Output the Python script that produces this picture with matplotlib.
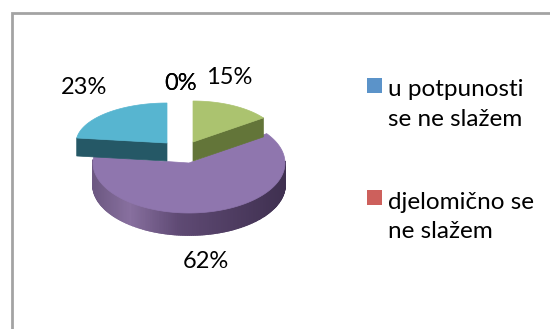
import matplotlib
matplotlib.use('Agg')
import matplotlib.pyplot as plt
from matplotlib.patches import Polygon, Rectangle
import numpy as np

#data
categories = ['u potpunosti\nse ne slažem', 'djelomično se\nne slažem', 'c3', 'c4', 'c5']
values = [0, 0, 15, 62, 23]
top_colors = ['#5b93c9', '#cd605c', '#abc36f', '#8f76ae', '#57b5d0']
side_colors = ['#2f4f70', '#7a3432', '#637539', '#4a3a5c', '#255866']

#centre of each slice in pixels (exploded), radii and depth
apex = {2: (193, 142), 3: (189, 163), 4: (167, 143)}
radii = {2: (87, 41), 3: (96, 50), 4: (91, 40)}
depth = {2: 19, 3: 22, 4: 18}
#where the percent labels sit
label_pos = [(181, 83), (181, 83), (229, 77), (206, 261), (84, 88)]

plt.rcParams['font.family'] = ['Lato', 'DejaVu Sans']
fig = plt.figure(figsize=(5.5, 3.29), dpi=100)
ax = fig.add_axes([0, 0, 1, 1])
ax.set_xlim(0, 550)
ax.set_ylim(329, 0)
ax.axis('off')

#chart frame, only left and top are in the crop
ax.plot([11.5, 11.5, 550], [329, 12.5, 12.5], color='#a3a3a3', lw=2, solid_joinstyle='miter')

#angles clockwise from 12 o'clock
total = sum(values)
ends = np.cumsum(values) / total * 2 * np.pi
starts = ends - np.array(values) / total * 2 * np.pi


def rim(i, a):
    return apex[i][0] + radii[i][0] * np.sin(a), apex[i][1] - radii[i][1] * np.cos(a)


def mix(c1, c2, t):
    c1 = np.array(matplotlib.colors.to_rgb(c1))
    c2 = np.array(matplotlib.colors.to_rgb(c2))
    return tuple(c1 + (c2 - c1) * t)


#back to front: purple, green, teal
for i in [3, 2, 4]:
    a = np.linspace(starts[i], ends[i], 200)
    x, y = rim(i, a)
    ax0, ay0 = apex[i]
    d = depth[i]
    if i == 3:
        #round side with the gradient, only the front half shows
        for k in range(len(a) - 1):
            if np.cos(a[k]) > 0.05:
                continue
            t = (x[k] - 91) / 194
            if t < 0.2:
                col = mix('#6b5780', '#88709f', t / 0.2)
            elif t < 0.45:
                col = mix('#88709f', '#5f4a74', (t - 0.2) / 0.25)
            else:
                col = mix('#5f4a74', '#3f3050', (t - 0.45) / 0.55)
            ax.add_patch(Polygon([(x[k], y[k]), (x[k + 1], y[k + 1]), (x[k + 1], y[k + 1] + d), (x[k], y[k] + d)],
                                 closed=True, fc=col, ec=col, lw=1.2))
    else:
        #flat cut faces of the pulled out slices
        if i == 2:
            face = [(ax0, ay0), (x[-1], y[-1]), (x[-1], y[-1] + d), (ax0, ay0 + d)]
        else:
            face = [(ax0, ay0), (x[0], y[0]), (x[0], y[0] + d), (ax0, ay0 + d)]
        ax.add_patch(Polygon(face, closed=True, fc=side_colors[i], ec=side_colors[i], lw=0.5))
    pts = [(ax0, ay0)] + list(zip(x, y))
    ax.add_patch(Polygon(pts, closed=True, fc=top_colors[i], ec=top_colors[i], lw=0.5))

#percent labels, the two 0% are on top of each other
for v, p in zip(values, label_pos):
    ax.text(p[0], p[1], str(v) + '%', fontsize=17, ha='center', va='center', color='black')

#legend, the other entries are cut off in the original
legend_y = [85.5, 197.5]
text_y = [104.5, 217]
for j in range(2):
    ax.add_patch(Rectangle((367, legend_y[j] - 7.5), 15, 15, fc=top_colors[j], ec='none'))
    ax.text(388, text_y[j], categories[j], fontsize=17.5, ha='left', va='center', linespacing=1.52, color='black')

fig.savefig('out.png', dpi=100)
